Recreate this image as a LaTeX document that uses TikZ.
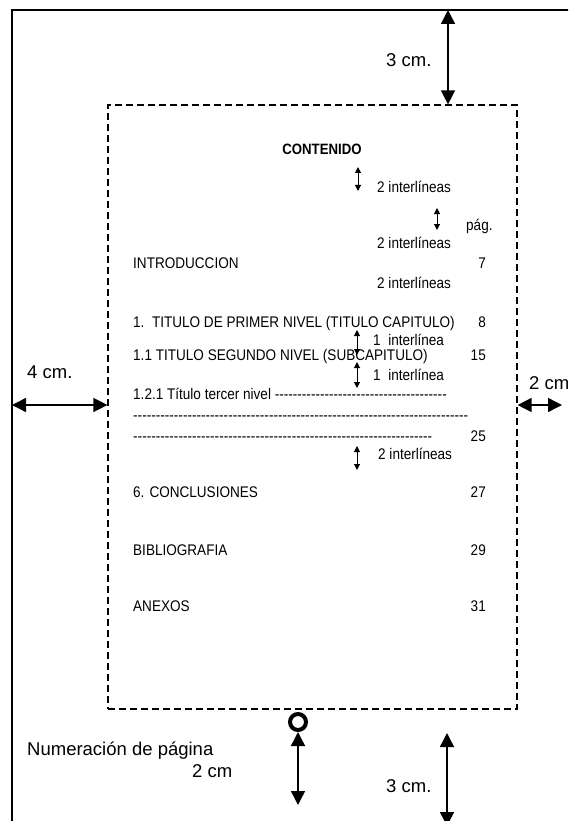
\documentclass[tikz,border=0pt]{standalone}
\usepackage{fontspec}
\setmainfont{Liberation Sans}
\newfontfamily\estrecha[FakeStretch=0.88]{Liberation Sans}
\usetikzlibrary{arrows.meta, positioning}
\tikzstyle{toc} = [anchor=base west, inner sep=0pt, font=\estrecha\fontsize{15.4}{17}\selectfont]
\tikzstyle{pnum} = [anchor=base east, inner sep=0pt, font=\estrecha\fontsize{15.4}{17}\selectfont]
\tikzstyle{gapnote} = [anchor=base west, inner sep=0pt, font=\estrecha\fontsize{15.4}{17}\selectfont]
\tikzstyle{dimtext} = [anchor=base west, inner sep=0pt, font=\fontsize{18.5}{20}\selectfont]
\tikzstyle{dimarrow} = [line width=1.4pt, {Triangle[length=14pt,width=14pt]}-{Triangle[length=14pt,width=14pt]}]
\tikzstyle{gaparrow} = [line width=1pt, {Triangle[length=6pt,width=6pt]}-{Triangle[length=6pt,width=6pt]}]
\newcommand{\guiones}[1]{\makebox[#1pt]{\xleaders\hbox{-}\hfill}}

\begin{document}
\begin{tikzpicture}[x=1pt, y=-1pt]
  \useasboundingbox (0,0) rectangle (568,821);
  \clip (0,0) rectangle (568,821);
  % hoja y margenes
  \draw[line width=1.3pt] (12,830) |- (580,10);
  \node[draw, line width=1.2pt, dash pattern=on 7pt off 4pt, minimum width=409pt, minimum height=604pt, inner sep=0pt] (caja) at (312.5,407) {};

  % contenido
  \node[inner sep=0pt, anchor=base, font=\estrecha\fontsize{15}{17}\selectfont\bfseries] (titulo) at (322,155) {CONTENIDO};
  \node[gapnote] (g1) at (377,193) {2 interlíneas};
  \node[gapnote] (pag) at (466,230) {pág.};
  \node[gapnote] (g2) at (377,248) {2 interlíneas};
  \node[toc] (intro) at (133,268) {INTRODUCCION};
  \node[pnum] (p7) at (486,268) {7};
  \node[gapnote] (g3) at (377,288) {2 interlíneas};
  \node[toc] (cap) at (133,327) {1.\ \ TITULO DE PRIMER NIVEL (TITULO CAPITULO)};
  \node[pnum] (p8) at (486,327) {8};
  \node[gapnote] (i1) at (373,345) {1\ \ interlínea};
  \node[toc] (sub) at (133,360) {1.1 TITULO SEGUNDO NIVEL (SUBCAPITULO)};
  \node[pnum] (p15) at (486,360) {15};
  \node[gapnote] (i2) at (373,380) {1\ \ interlínea};
  \node[toc] (ter) at (133,399) {1.2.1 Título tercer nivel \guiones{172}};
  \node[toc] (ter2) at (133,420) {\guiones{335}};
  \node[toc] (ter3) at (133,441) {\guiones{299}};
  \node[pnum] (p25) at (486,441) {25};
  \node[gapnote] (g4) at (378,459) {2 interlíneas};
  \node[toc] (concl) at (133,497) {6. CONCLUSIONES};
  \node[pnum] (p27) at (486,497) {27};
  \node[toc] (biblio) at (133,555) {BIBLIOGRAFIA};
  \node[pnum] (p29) at (486,555) {29};
  \node[toc] (anexos) at (133,611) {ANEXOS};
  \node[pnum] (p31) at (486,611) {31};

  % flechas de interlineado
  \coordinate (a1) at (358,167); \coordinate (b1) at (358,191);
  \coordinate (a2) at (437,208); \coordinate (b2) at (437,230);
  \coordinate (a3) at (357,330); \coordinate (b3) at (357,355);
  \coordinate (a4) at (357,362); \coordinate (b4) at (357,388);
  \coordinate (a5) at (357,446); \coordinate (b5) at (357,470);
  \foreach \i in {1,...,5}
    \draw[gaparrow] (a\i) -- (b\i);

  % cotas de margen
  \coordinate (sup) at (448,10);
  \draw[dimarrow] (sup) -- (sup |- caja.north);
  \node[dimtext] (m3) at (386,67) {3 cm.};
  \coordinate (izq) at (12,405);
  \draw[dimarrow] (izq) -- (izq -| caja.west);
  \node[dimtext] (m4) at (27,378) {4 cm.};
  \coordinate (der) at (562,405);
  \draw[dimarrow] (caja.east |- der) -- (der);
  \node[dimtext] (m2) at (529,389) {2 cm};

  % numeracion
  \node[circle, draw, line width=4pt, minimum size=16pt, inner sep=0pt] (num) at (298,722) {};
  \coordinate (numfin) at (298,805);
  \draw[dimarrow] (num.south) -- (numfin);
  \node[dimtext] (numtxt) at (27,755) {Numeración de página};
  \node[dimtext] (n2) at (192,777) {2 cm};
  \coordinate (infA) at (447,733);
  \coordinate (infB) at (447,826);
  \draw[dimarrow] (infA) -- (infB);
  \node[dimtext] (m3b) at (386,792) {3 cm.};
\end{tikzpicture}
\end{document}
